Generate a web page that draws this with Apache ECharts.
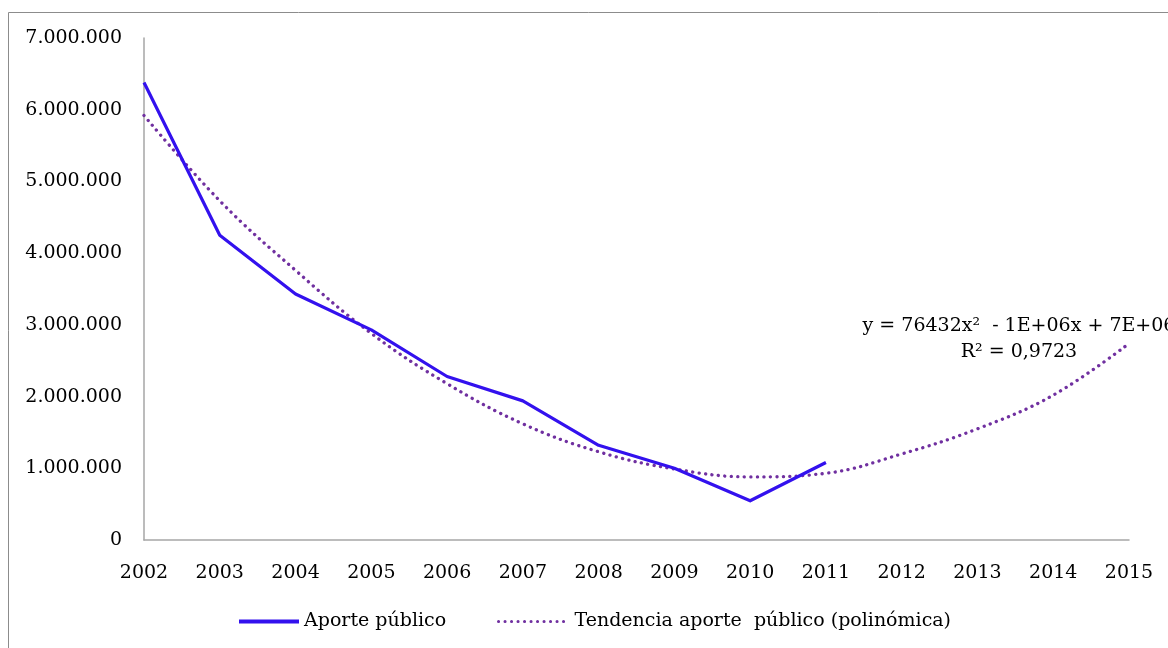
<!DOCTYPE html>
<html>
<head>
<meta charset="utf-8">
<title>Aporte público</title>
<script src="https://cdn.jsdelivr.net/npm/echarts@6/dist/echarts.min.js"></script>
<style>
  html, body { margin: 0; padding: 0; background: #ffffff; }
  #chart { width: 1168px; height: 648px; }
</style>
</head>
<body>
<div id="chart"></div>
<script>
// Years on the horizontal axis
const years = ['2002', '2003', '2004', '2005', '2006', '2007', '2008',
               '2009', '2010', '2011', '2012', '2013', '2014', '2015'];

// Public contribution, observed values 2002-2011
const aportePublico = [6380000, 4250000, 3430000, 2930000, 2280000,
                       1940000, 1320000, 1000000, 547000, 1080000];

// Polynomial (2nd order) trend, evaluated at every year through 2015
const tendencia = [5920000, 4730000, 3760000, 2880000, 2180000, 1620000,
                   1230000, 990000, 880000, 930000, 1200000, 1550000,
                   2020000, 2740000];

// Trend equation annotation
const equationLines = ['y = 76432x\u00B2  - 1E+06x + 7E+06', 'R\u00B2 = 0,9723'];

const yMax = 7000000;
const yStep = 1000000;

const serif = '"DejaVu Serif", "Liberation Serif", serif';
const axisGray = '#a6a6a6';

function fmtThousands(v) {
  return String(Math.round(v)).replace(/\B(?=(\d{3})+(?!\d))/g, '.');
}

const chart = echarts.init(document.getElementById('chart'));

chart.setOption({
  backgroundColor: '#ffffff',
  animation: false,
  grid: { left: 144, top: 38, right: 39, bottom: 108, containLabel: false },
  xAxis: {
    type: 'category',
    data: years,
    boundaryGap: false,
    axisLine: { lineStyle: { color: axisGray, width: 1.5 } },
    axisTick: { show: false },
    axisLabel: { color: '#000', fontFamily: serif, fontSize: 19, margin: 24 },
    splitLine: { show: false }
  },
  yAxis: {
    type: 'value',
    min: 0,
    max: yMax,
    interval: yStep,
    axisLine: { show: true, lineStyle: { color: axisGray, width: 1.5 } },
    axisTick: { show: false },
    axisLabel: {
      color: '#000', fontFamily: serif, fontSize: 19, margin: 22,
      formatter: fmtThousands
    },
    splitLine: { show: false }
  },
  legend: [
    {
      left: 237, top: 612, padding: 0,
      itemWidth: 60, itemHeight: 14,
      itemStyle: { opacity: 0 },
      lineStyle: { width: 4 },
      data: ['Aporte público'],
      textStyle: { color: '#000', fontFamily: serif, fontSize: 19 }
    },
    {
      left: 497, top: 612, padding: 0,
      itemWidth: 71, itemHeight: 14,
      itemStyle: { opacity: 0 },
      lineStyle: { width: 3 },
      data: ['Tendencia aporte  público (polinómica)'],
      textStyle: { color: '#000', fontFamily: serif, fontSize: 19 }
    }
  ],
  series: [
    {
      name: 'Tendencia aporte  público (polinómica)',
      type: 'line',
      data: tendencia,
      smooth: 0.4,
      showSymbol: false,
      symbol: 'none',
      z: 2,
      lineStyle: {
        color: '#7030a0', width: 3.3,
        type: [0.1, 6.4], cap: 'round'
      },
      itemStyle: { color: '#7030a0' }
    },
    {
      name: 'Aporte público',
      type: 'line',
      data: aportePublico,
      showSymbol: false,
      symbol: 'none',
      z: 3,
      lineStyle: { color: '#3311ee', width: 3.2, join: 'round' },
      itemStyle: { color: '#3311ee' }
    }
  ],
  graphic: [
    {
      type: 'rect',
      silent: true,
      z: -10,
      shape: { x: 8.5, y: 12.5, width: 1300, height: 800 },
      style: { fill: 'none', stroke: '#8c8c8c', lineWidth: 1 }
    },
    {
      type: 'text',
      x: 1019, y: 326,
      style: {
        text: equationLines[0], fill: '#000', font: '19px ' + serif,
        align: 'center', verticalAlign: 'middle'
      }
    },
    {
      type: 'text',
      x: 1019, y: 352,
      style: {
        text: equationLines[1], fill: '#000', font: '19px ' + serif,
        align: 'center', verticalAlign: 'middle'
      }
    }
  ]
});
</script>
</body>
</html>
